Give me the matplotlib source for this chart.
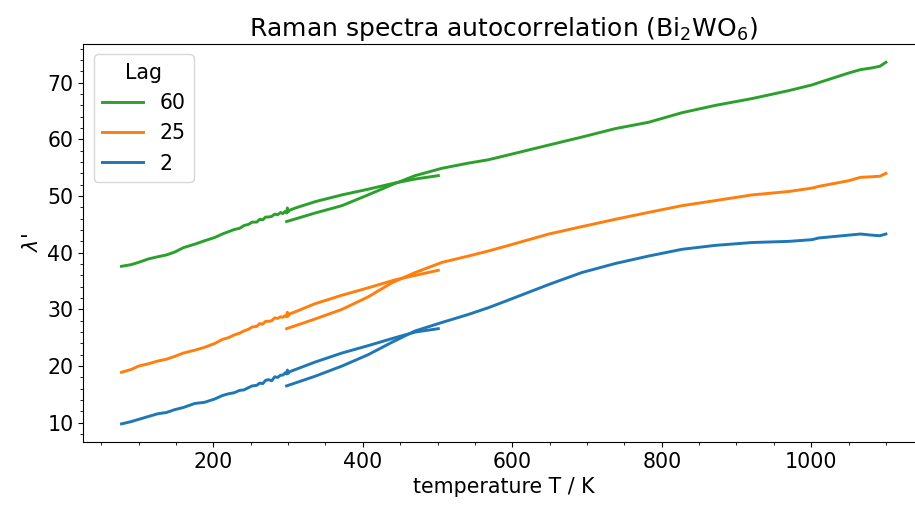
import numpy as np
import matplotlib
matplotlib.use("Agg")
import matplotlib.pyplot as plt
from matplotlib.ticker import MultipleLocator

# low-temperature run (80-500 K)
t_low = [77, 90, 100, 113, 126, 137, 148, 160, 175, 188, 202, 212, 220, 228, 235, 241, 247, 252, 258, 262,
         266, 270, 274, 278, 282, 286, 290, 293, 296, 298, 299, 300, 302, 310, 336, 372, 407, 443, 470, 501]
lag2_low = [9.8, 10.2, 10.6, 11.1, 11.6, 11.8, 12.3, 12.7, 13.4, 13.6, 14.2, 14.8, 15.1, 15.3, 15.7, 15.8, 16.2, 16.5, 16.6, 17.0,
            16.9, 17.5, 17.6, 17.4, 18.1, 18.0, 18.4, 18.4, 18.8, 18.6, 19.3, 18.7, 19.0, 19.4, 20.7, 22.3, 23.6, 25.0, 26.0, 26.6]
lag25_low = [18.9, 19.4, 20.0, 20.4, 20.9, 21.2, 21.7, 22.3, 22.8, 23.3, 24.0, 24.7, 25.0, 25.5, 25.8, 26.2, 26.5, 26.9, 27.0, 27.5,
             27.4, 27.9, 27.9, 28.0, 28.5, 28.4, 28.7, 28.6, 28.9, 28.7, 29.5, 28.8, 29.2, 29.6, 31.0, 32.5, 33.8, 35.2, 36.0, 36.9]
lag60_low = [37.6, 37.9, 38.3, 38.9, 39.3, 39.6, 40.1, 40.9, 41.5, 42.1, 42.7, 43.3, 43.7, 44.1, 44.3, 44.8, 45.0, 45.4, 45.4, 45.9,
             45.8, 46.3, 46.3, 46.4, 46.8, 46.7, 47.1, 46.9, 47.3, 47.0, 47.9, 47.2, 47.5, 47.9, 49.0, 50.2, 51.2, 52.3, 53.0, 53.6]

# high-temperature run (300-1100 K)
t_high = [298, 336, 372, 407, 439, 470, 506, 541, 568, 590, 649, 693, 738, 782, 827, 872, 921, 970, 1001, 1010, 1050, 1066, 1081, 1092, 1100]
lag2_high = [16.5, 18.2, 20.0, 22.0, 24.2, 26.2, 27.7, 29.1, 30.3, 31.4, 34.4, 36.5, 38.1, 39.4, 40.6, 41.3, 41.8, 42.0, 42.3, 42.6, 43.1, 43.3, 43.1, 43.0, 43.3]
lag25_high = [26.6, 28.3, 30.0, 32.2, 34.7, 36.5, 38.3, 39.4, 40.3, 41.1, 43.3, 44.6, 45.9, 47.1, 48.3, 49.2, 50.2, 50.8, 51.4, 51.7, 52.7, 53.3, 53.4, 53.5, 54.0]
lag60_high = [45.5, 47.0, 48.3, 50.2, 52.0, 53.6, 54.9, 55.8, 56.4, 57.1, 59.0, 60.4, 61.9, 63.0, 64.7, 66.0, 67.2, 68.6, 69.6, 70.0, 71.7, 72.3, 72.6, 72.9, 73.6]

lags = ["60", "25", "2"]
colors = {"60": "tab:green", "25": "tab:orange", "2": "tab:blue"}
low = {"60": lag60_low, "25": lag25_low, "2": lag2_low}
high = {"60": lag60_high, "25": lag25_high, "2": lag2_high}

fs = 14.8
fig = plt.figure(figsize=(9.15, 5.08), dpi=100)
ax = fig.add_axes([0.091, 0.130, 0.919, 0.783])

handles = []
for lag in lags:
    h, = ax.plot(t_low, low[lag], color=colors[lag], lw=2.1, label=lag)
    ax.plot(t_high, high[lag], color=colors[lag], lw=2.1)
    handles.append(h)

ax.xaxis.set_minor_locator(MultipleLocator(50))
ax.yaxis.set_minor_locator(MultipleLocator(2))
ax.tick_params(labelsize=fs)
ax.set_xlabel("temperature T / K", fontsize=fs)
ax.set_ylabel(r"$\lambda$'", fontsize=fs)
ax.set_title(r"Raman spectra autocorrelation (Bi$_2$WO$_6$)", fontsize=18)
ax.legend(handles=handles, title="Lag", loc="upper left", fontsize=fs, title_fontsize=fs)

fig.savefig("out.png", dpi=100)
